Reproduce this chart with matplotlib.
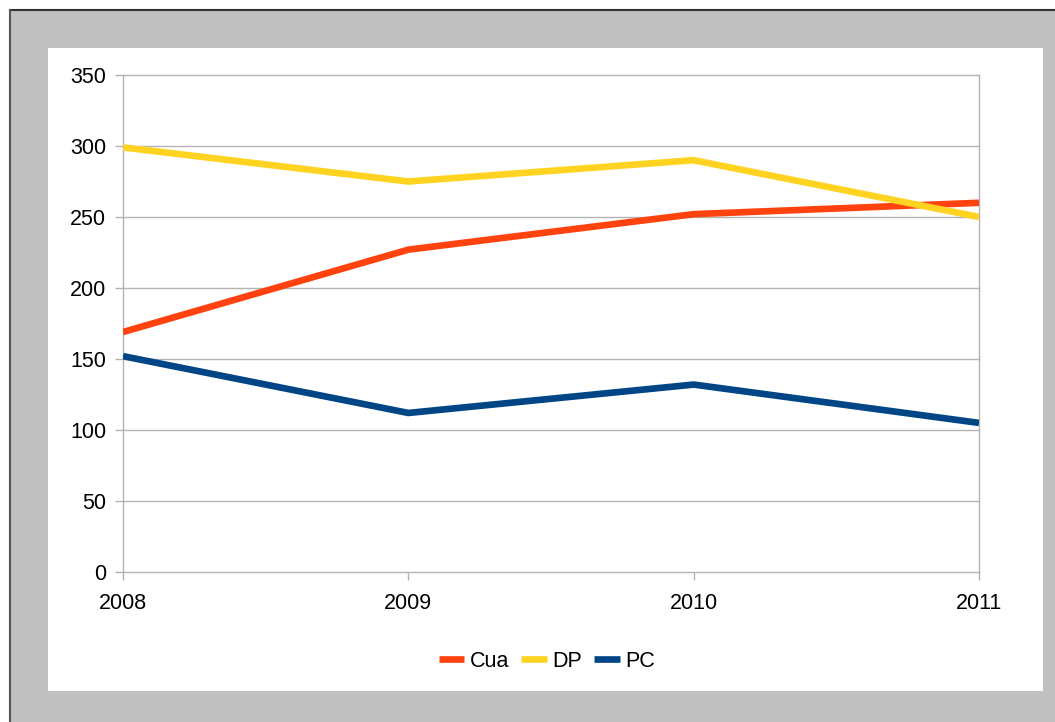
import matplotlib.pyplot as plt
from matplotlib.patches import Rectangle
from matplotlib.lines import Line2D

plt.rcParams['font.family'] = ['Liberation Sans', 'DejaVu Sans']

years = [2008, 2009, 2010, 2011]
cua = [169, 227, 252, 260]
dp = [299, 275, 290, 250]
pc = [152, 112, 132, 105]

series = [("Cua", cua, "#ff420e"), ("DP", dp, "#ffd320"), ("PC", pc, "#004586")]

W, H = 1055, 722
fig = plt.figure(figsize=(W / 100, H / 100), dpi=100)
fig.patch.set_facecolor("white")

# grey frame with a dark edge on top and left, white card inside
fig.patches.append(Rectangle((10 / W, 0), 1, (H - 10) / H, transform=fig.transFigure,
                             facecolor="#c0c0c0", edgecolor="none", zorder=0))
fig.lines.append(Line2D([10 / W, 1], [(H - 10) / H] * 2, transform=fig.transFigure,
                        color="#333333", lw=1.5, zorder=1))
fig.lines.append(Line2D([10 / W] * 2, [0, (H - 10) / H], transform=fig.transFigure,
                        color="#555555", lw=1.5, zorder=1))
fig.patches.append(Rectangle((48 / W, (H - 691) / H), (1043 - 48) / W, (691 - 48) / H,
                             transform=fig.transFigure, facecolor="white",
                             edgecolor="none", zorder=1))

ax = fig.add_axes([123 / W, (H - 572) / H, (979 - 123) / W, (572 - 75) / H])
ax.set_facecolor("none")
ax.set_zorder(5)

for name, vals, col in series:
    ax.plot(years, vals, color=col, lw=4.8, label=name,
            solid_capstyle="butt", solid_joinstyle="round", zorder=3)

ax.set_xlim(2008, 2011)
ax.set_ylim(0, 350)
ax.set_xticks(years)
ax.set_yticks(range(0, 351, 50))
ax.yaxis.grid(True, color="#b3b3b3", lw=1)
ax.set_axisbelow(True)
for gl in ax.get_ygridlines():
    gl.set_clip_on(False)

for s in ("top", "bottom"):
    ax.spines[s].set_visible(False)
for s in ("left", "right"):
    ax.spines[s].set_color("#b3b3b3")
    ax.spines[s].set_linewidth(1)

ax.tick_params(axis="both", colors="#b3b3b3", labelcolor="black", labelsize=15.5,
               length=6, width=1)
ax.tick_params(axis="y", pad=6)
ax.tick_params(axis="x", pad=9)

leg = ax.legend(loc="upper center", bbox_to_anchor=(0.495, -0.12), ncol=3,
                frameon=False, fontsize=15.5, handlelength=1.2, handletextpad=0.25,
                columnspacing=0.55)

fig.savefig("out.png", dpi=100)
